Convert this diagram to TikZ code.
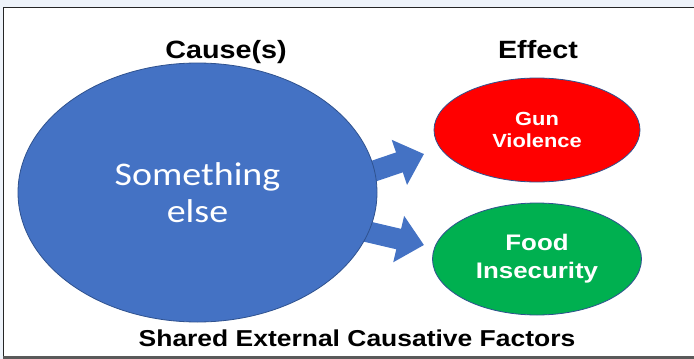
\documentclass[tikz,border=0pt]{standalone}
\usepackage{fontspec}
\usetikzlibrary{shapes.geometric,arrows.meta,backgrounds}
\newfontfamily\arialbf[FakeStretch=1.15]{Liberation Sans Bold}
\newfontfamily\calibri[FakeStretch=1.15]{Carlito}
\definecolor{azul}{HTML}{4472C4}
\definecolor{borde}{HTML}{2F528F}
\definecolor{rojo}{HTML}{FF0000}
\definecolor{verde}{HTML}{00B050}
\definecolor{fondo}{HTML}{EEF3FA}
\definecolor{marco}{HTML}{5A5A5A}
\begin{document}
\begin{tikzpicture}[x=1pt, y=-1pt,
    elipse/.style={ellipse, draw=borde, line width=0.8pt, inner sep=0pt, align=center, text=white},
    titulo/.style={anchor=base, font=\arialbf\fontsize{25}{30}\selectfont},
    flecha/.style={azul, line width=21pt, -{Triangle[width=46pt, length=26pt]}, shorten <=-12pt}]
    \useasboundingbox (0,0) rectangle (694,359);
    % Titulos
    \node[titulo] (causeTitle) at (226,58) {Cause(s)};
    \node[titulo] (effectTitle) at (538,58) {Effect};
    \node[titulo, font=\arialbf\fontsize{23}{28}\selectfont] (factors) at (357,346) {Shared External Causative Factors};
    
    % Causa
    \node[elipse, fill=azul, minimum width=359pt, minimum height=259pt,
          font=\calibri\fontsize{33}{37}\selectfont] (algo) at (197.5,192.5) {Something\\else};
    
    % Efectos
    \node[elipse, fill=rojo, minimum width=206pt, minimum height=104pt,
          font=\arialbf\fontsize{19}{22}\selectfont] (gun) at (537,130) {Gun\\Violence};
    \node[elipse, fill=verde, minimum width=209pt, minimum height=112pt,
          font=\arialbf\fontsize{22.5}{28}\selectfont] (food) at (537,259) {Food\\Insecurity};
    
    % Puntas de las flechas
    \coordinate (tipGun) at (424,154);
    \coordinate (tipFood) at (424,245);
    
    \begin{scope}[on background layer]
        % Marco
        \fill[fondo] (0,0) rectangle (694,359);
        \fill[white] (4,8) rectangle (694,356);
        \draw[black!85, line width=1.5pt] (3.5,359) -- (3.5,7.5) -- (694,7.5);
        \draw[marco, line width=3pt] (3,357.5) -- (694,357.5);
        
        % Flechas
        \draw[flecha] (algo.7) -- (tipGun);
        \draw[flecha] (algo.-13) -- (tipFood);
    \end{scope}
\end{tikzpicture}
\end{document}
